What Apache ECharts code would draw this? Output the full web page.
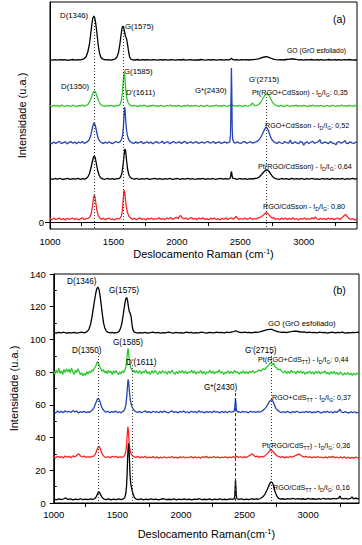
<!DOCTYPE html>
<html><head><meta charset="utf-8">
<script src="https://cdn.jsdelivr.net/npm/echarts@6/dist/echarts.min.js"></script>
<style>html,body{margin:0;padding:0;background:#fff}#c{width:362px;height:545px}</style>
</head><body><div id="c"></div>
<script>
// ---------- Panel (a) spectra (arbitrary offset units) ----------
const goA = [[1000,162.2],[1020,161.8],[1040,162.3],[1060,161.9],[1080,162.4],[1100,162.0],[1120,162.3],[1140,161.7],[1160,162.2],[1180,162.5],[1200,161.9],[1220,162.3],[1240,162.1],[1255,162.6],[1270,163.4],[1285,165.5],[1298,170],[1310,177],[1320,187],[1330,198],[1338,204],[1346,206],[1353,204],[1360,199],[1370,189],[1380,177],[1390,169],[1400,165],[1412,163.3],[1425,162.5],[1440,162.1],[1460,162.4],[1480,161.9],[1500,162.5],[1515,163.2],[1528,165],[1540,169.5],[1550,177],[1560,187],[1568,194],[1575,196],[1582,194],[1589,189],[1596,185.5],[1604,183],[1612,177],[1620,170],[1628,165],[1636,163],[1650,162.2],[1670,162.0],[1690,162.5],[1710,161.9],[1730,162.3],[1750,162.0],[1770,162.4],[1790,161.8],[1810,162.3],[1830,162.1],[1850,161.8],[1870,162.4],[1890,162.0],[1910,162.3],[1930,161.9],[1950,162.4],[1970,162.1],[1990,161.8],[2010,162.3],[2030,162.0],[2050,162.5],[2070,161.9],[2090,162.2],[2110,162.4],[2130,161.8],[2150,162.2],[2170,162.0],[2190,162.5],[2210,162.1],[2230,161.8],[2250,162.3],[2270,162.0],[2290,162.4],[2310,161.9],[2330,162.2],[2350,162.4],[2370,161.9],[2390,162.3],[2410,162.1],[2422,162.6],[2430,163.8],[2438,162.7],[2450,162.1],[2470,162.4],[2490,161.9],[2510,162.3],[2530,162.1],[2550,162.4],[2570,162.0],[2590,162.3],[2610,162.5],[2630,162.8],[2650,163.4],[2670,164.3],[2690,165.0],[2705,165.3],[2720,164.8],[2740,163.8],[2760,162.9],[2780,162.4],[2800,162.1],[2820,162.4],[2840,162.0],[2860,162.5],[2880,162.7],[2900,163.2],[2920,163.0],[2940,162.6],[2960,162.2],[2980,162.4],[3000,161.9],[3020,162.3],[3040,162.1],[3060,162.5],[3080,161.9],[3100,162.3],[3120,162.0],[3140,162.4],[3160,161.8],[3180,162.2],[3200,162.5],[3220,161.9],[3240,162.3],[3260,162.0],[3280,162.4],[3300,161.8],[3320,162.3],[3340,162.1],[3360,162.5],[3380,161.9],[3400,162.2],[3420,162.0]];

const ptRgoCdSsonMixA = [[1000,116.4],[1015,115.6],[1030,116.8],[1045,115.9],[1060,116.6],[1075,115.3],[1090,116.9],[1105,116.1],[1120,115.5],[1135,116.7],[1150,116.0],[1165,115.7],[1180,116.8],[1195,116.2],[1210,115.4],[1225,116.5],[1240,116.0],[1255,116.9],[1270,115.8],[1285,116.6],[1298,117.5],[1310,119.5],[1322,123],[1334,127.5],[1344,130.5],[1352,131],[1360,129.5],[1370,126],[1382,121.5],[1394,118.5],[1406,116.9],[1420,116.2],[1435,115.6],[1450,116.5],[1465,115.8],[1480,116.7],[1495,116.0],[1510,115.5],[1525,116.6],[1540,116.4],[1552,117.5],[1562,121],[1570,128],[1576,138],[1581,146],[1585,149],[1589,146],[1594,138],[1600,129],[1607,123],[1615,119.5],[1625,117.5],[1637,116.6],[1650,115.8],[1665,116.7],[1680,116.0],[1695,115.5],[1710,116.6],[1725,115.9],[1740,116.8],[1755,116.1],[1770,115.4],[1785,116.5],[1800,116.0],[1815,116.9],[1830,115.7],[1845,116.3],[1860,115.6],[1875,116.7],[1890,116.1],[1905,115.5],[1920,116.6],[1935,116.0],[1950,116.8],[1965,115.8],[1980,116.4],[1995,115.6],[2010,116.7],[2025,116.1],[2040,115.4],[2055,116.5],[2070,116.0],[2085,116.9],[2100,115.7],[2115,116.3],[2130,115.8],[2145,116.6],[2160,116.1],[2175,115.5],[2190,116.7],[2205,116.0],[2220,115.6],[2235,116.8],[2250,116.2],[2265,115.5],[2280,116.4],[2295,116.0],[2310,116.9],[2325,115.8],[2340,116.3],[2355,115.6],[2370,116.7],[2385,116.1],[2400,115.7],[2412,116.4],[2424,117.2],[2430,118.6],[2436,116.9],[2448,115.9],[2460,116.5],[2475,115.7],[2490,116.6],[2505,116.0],[2520,115.5],[2535,116.7],[2550,116.2],[2565,115.8],[2578,116.5],[2588,117.8],[2596,119.2],[2604,117.4],[2615,116.3],[2630,116.6],[2645,117.5],[2660,119.5],[2675,122.5],[2690,126],[2702,127.8],[2712,128.2],[2722,127.1],[2735,124.5],[2748,121],[2760,118.5],[2775,117],[2790,116.4],[2805,115.7],[2820,116.6],[2835,116.0],[2850,115.5],[2865,116.8],[2880,116.1],[2895,115.7],[2910,116.5],[2925,116.0],[2940,116.9],[2955,115.6],[2970,116.3],[2985,115.8],[3000,116.7],[3015,116.1],[3030,115.4],[3045,116.5],[3060,116.0],[3075,116.8],[3090,115.7],[3105,116.4],[3120,115.9],[3135,116.6],[3150,116.1],[3165,115.5],[3180,116.7],[3195,116.0],[3210,115.6],[3225,116.8],[3240,116.2],[3255,115.5],[3270,116.4],[3285,116.0],[3300,116.9],[3315,115.8],[3330,116.3],[3345,115.6],[3360,116.7],[3375,116.1],[3390,115.7],[3405,116.5],[3420,116.0]];

const rgoCdSsonMixA = [[1000,79.5],[1015,78.2],[1030,80.1],[1045,78.6],[1060,79.8],[1075,80.6],[1090,78.4],[1105,79.3],[1120,80.2],[1135,78.1],[1150,79.7],[1165,80.4],[1180,78.7],[1195,79.9],[1210,78.3],[1225,80.0],[1240,79.1],[1255,80.5],[1270,78.6],[1285,79.6],[1298,80.6],[1310,82.5],[1322,87],[1334,94],[1342,98],[1348,99],[1355,97.5],[1363,93],[1372,87.5],[1382,83],[1394,80.5],[1408,79.3],[1422,78.4],[1436,79.9],[1450,78.8],[1465,80.2],[1480,79.0],[1495,78.5],[1510,79.8],[1525,80.3],[1540,79.2],[1552,80.2],[1563,82.5],[1572,86],[1579,96],[1584,108],[1588,115],[1592,112],[1597,101],[1603,92],[1610,86.5],[1620,82.5],[1632,80.4],[1645,79.3],[1660,78.5],[1675,80.1],[1690,78.9],[1705,79.7],[1720,80.5],[1735,78.4],[1750,79.4],[1765,80.2],[1780,78.7],[1795,79.9],[1810,78.2],[1825,79.6],[1840,80.4],[1855,78.8],[1870,79.5],[1885,80.7],[1900,78.5],[1915,79.8],[1930,80.1],[1945,78.3],[1960,79.6],[1975,80.5],[1990,78.9],[2005,79.4],[2020,80.3],[2035,78.6],[2050,79.9],[2065,80.6],[2080,78.4],[2095,79.5],[2110,80.2],[2125,78.8],[2140,79.7],[2155,80.4],[2170,78.5],[2185,79.3],[2200,80.1],[2215,78.7],[2230,79.8],[2245,80.5],[2260,78.9],[2275,79.4],[2290,80.3],[2305,78.6],[2320,79.7],[2335,80.2],[2350,78.4],[2365,79.5],[2380,80.0],[2395,78.9],[2410,79.6],[2418,80.5],[2423,88],[2427,125],[2430,154],[2433,132],[2436,95],[2440,83],[2448,79.8],[2460,78.8],[2475,80.2],[2490,79.1],[2505,78.5],[2520,79.9],[2535,80.4],[2550,78.7],[2565,79.5],[2580,80.3],[2595,78.9],[2608,79.4],[2620,79.8],[2635,80.8],[2650,82.5],[2665,85.5],[2680,89.5],[2693,93],[2703,94.5],[2713,93.8],[2724,90.5],[2736,86],[2748,82.5],[2762,80.5],[2776,79.4],[2790,78.6],[2805,80.2],[2820,79.0],[2835,78.4],[2850,80.5],[2865,79.3],[2880,78.8],[2895,81.8],[2903,79.0],[2915,78.6],[2930,80.3],[2945,79.1],[2960,78.3],[2975,80.6],[2990,79.4],[3000,76.8],[3010,78.9],[3025,80.2],[3040,78.5],[3055,79.7],[3070,80.8],[3085,78.6],[3100,79.5],[3115,80.4],[3128,82.3],[3136,79.2],[3150,78.7],[3165,80.1],[3180,79.3],[3195,78.4],[3210,80.5],[3225,79.0],[3240,78.6],[3255,77.2],[3265,79.6],[3280,80.3],[3295,78.8],[3310,79.6],[3325,81.5],[3335,79.0],[3350,78.5],[3365,80.2],[3380,79.2],[3395,78.6],[3410,80.0],[3420,79.3]];

const ptRgoCdSsonA = [[1000,43.3],[1020,42.6],[1040,43.5],[1060,42.8],[1080,43.6],[1100,42.5],[1120,43.2],[1140,43.7],[1160,42.7],[1180,43.4],[1200,42.9],[1220,43.6],[1240,42.6],[1260,43.3],[1275,42.9],[1285,43.6],[1298,45],[1310,48],[1322,53.5],[1334,60.5],[1343,65],[1350,66],[1357,64],[1366,58],[1376,51.5],[1388,46.5],[1400,44.2],[1415,43.2],[1430,42.7],[1450,43.5],[1470,42.8],[1490,43.4],[1510,42.6],[1528,43.3],[1545,43.4],[1557,45],[1567,49],[1576,57],[1583,66],[1589,72],[1593,73],[1598,69],[1604,61],[1612,52.5],[1622,47],[1634,44.5],[1648,43.4],[1665,42.8],[1685,43.5],[1705,42.7],[1725,43.3],[1745,42.9],[1765,43.6],[1785,42.6],[1805,43.2],[1825,43.7],[1845,42.8],[1865,43.4],[1885,42.6],[1905,43.3],[1925,42.9],[1945,43.6],[1965,42.7],[1985,43.2],[2005,43.5],[2025,42.6],[2045,43.4],[2065,42.9],[2085,43.6],[2105,42.8],[2125,43.3],[2145,42.5],[2165,43.4],[2185,43.0],[2205,43.6],[2225,42.7],[2245,43.3],[2265,42.9],[2285,43.5],[2305,42.6],[2325,43.2],[2345,43.7],[2365,42.8],[2385,43.4],[2403,42.8],[2418,43.5],[2424,45.5],[2428,49.5],[2431,50.5],[2434,47],[2440,43.8],[2455,43.4],[2475,42.7],[2495,43.5],[2515,42.9],[2535,43.3],[2555,42.6],[2575,43.4],[2595,43.0],[2612,43.5],[2630,43.6],[2650,45],[2668,47.5],[2685,50],[2700,51.8],[2712,52.2],[2724,51],[2738,48.5],[2752,45.8],[2768,44],[2785,43.2],[2805,42.7],[2825,43.5],[2845,42.9],[2865,43.3],[2885,42.6],[2905,43.6],[2925,42.8],[2945,43.4],[2965,42.9],[2985,43.5],[3005,42.6],[3025,43.3],[3045,42.8],[3065,43.6],[3085,42.9],[3105,43.2],[3125,42.6],[3145,43.5],[3165,42.9],[3185,43.3],[3205,42.7],[3225,43.6],[3245,42.8],[3265,43.4],[3285,42.9],[3305,43.5],[3325,42.7],[3345,43.3],[3365,42.8],[3385,43.6],[3405,42.9],[3420,43.3]];

const rgoCdSsonA = [[1000,3.4],[1015,2.1],[1030,3.9],[1045,2.6],[1060,3.2],[1075,4.1],[1090,2.3],[1105,3.5],[1120,2.0],[1135,3.8],[1150,2.7],[1165,3.3],[1180,4.0],[1195,2.4],[1210,3.6],[1225,2.2],[1240,3.1],[1255,4.2],[1270,2.5],[1285,3.4],[1300,3.6],[1315,5],[1326,9],[1335,16],[1342,23],[1348,27],[1354,25.5],[1361,19],[1370,11.5],[1380,6.5],[1392,4.2],[1405,2.6],[1420,3.7],[1435,2.2],[1450,3.4],[1465,4.0],[1480,2.5],[1495,3.2],[1510,2.0],[1525,3.6],[1540,2.8],[1552,3.8],[1563,6],[1571,12],[1577,22],[1582,30],[1586,32],[1590,29],[1596,21],[1603,14],[1612,9],[1623,5.5],[1637,4],[1650,2.6],[1665,3.8],[1680,2.3],[1695,3.4],[1710,4.1],[1725,2.6],[1740,3.3],[1755,2.1],[1770,3.7],[1785,2.8],[1800,4.0],[1815,2.4],[1830,3.5],[1845,2.9],[1860,4.3],[1875,2.6],[1890,3.4],[1905,2.2],[1920,3.9],[1935,3.0],[1950,4.4],[1965,2.7],[1980,3.6],[1995,4.6],[2010,3.4],[2022,5.8],[2032,6.3],[2042,4.2],[2055,3.0],[2070,4.1],[2085,2.6],[2100,3.5],[2115,4.4],[2130,2.8],[2145,3.6],[2160,2.4],[2175,3.9],[2190,3.0],[2205,4.2],[2220,2.5],[2235,3.4],[2250,2.2],[2265,3.8],[2280,2.9],[2295,4.0],[2310,2.6],[2325,3.3],[2340,2.1],[2355,3.7],[2370,2.8],[2385,3.9],[2400,2.4],[2415,3.5],[2430,4.2],[2445,2.7],[2458,4.5],[2468,5.8],[2478,3.6],[2490,2.4],[2505,3.5],[2520,2.8],[2535,4.0],[2550,2.5],[2565,3.4],[2580,4.1],[2595,2.6],[2610,3.5],[2625,2.9],[2640,4.2],[2655,4.5],[2670,5.8],[2685,7.2],[2697,8.8],[2706,9.6],[2716,8.6],[2728,6.8],[2740,5.2],[2752,3.8],[2765,4.3],[2780,2.6],[2795,3.5],[2810,2.2],[2825,3.8],[2840,2.9],[2855,4.0],[2870,2.4],[2885,3.6],[2900,2.8],[2915,4.1],[2930,2.5],[2945,3.3],[2960,2.1],[2975,3.7],[2990,2.7],[3005,3.9],[3020,2.4],[3035,3.5],[3050,2.9],[3065,4.2],[3080,3.2],[3092,5.2],[3104,3.0],[3118,2.4],[3133,3.7],[3148,2.6],[3163,3.4],[3178,2.2],[3193,3.9],[3208,2.8],[3223,3.6],[3238,2.4],[3253,3.3],[3268,4.0],[3283,2.6],[3298,3.9],[3310,5.2],[3322,6.8],[3332,7.4],[3342,5.5],[3355,3.6],[3370,2.5],[3385,3.4],[3400,1.9],[3412,2.8],[3420,1.6]];

// ---------- Panel (b) spectra ----------
const goB = [[1000,104.2],[1020,103.9],[1040,104.3],[1060,104.0],[1080,104.4],[1100,103.8],[1120,104.2],[1140,104.0],[1160,104.3],[1180,103.9],[1200,104.1],[1220,104.4],[1238,104.0],[1250,104.3],[1265,105],[1278,106.5],[1290,109.5],[1300,113.5],[1310,118.5],[1320,123.5],[1330,128],[1338,131],[1346,132],[1354,131],[1362,128],[1372,122],[1382,115.5],[1392,110],[1402,106.8],[1414,105],[1428,104.3],[1445,104.0],[1460,104.3],[1475,103.9],[1490,104.2],[1500,104.2],[1512,104.8],[1524,106.5],[1536,110],[1548,116],[1558,121.5],[1566,124.8],[1573,125.6],[1580,124],[1587,120],[1594,117],[1601,116],[1608,114],[1615,109.5],[1622,106],[1632,104.6],[1645,104.1],[1660,103.9],[1680,104.2],[1700,104.0],[1720,104.3],[1740,103.8],[1760,104.1],[1780,104.4],[1800,104.0],[1820,104.3],[1840,103.9],[1860,104.2],[1880,104.0],[1900,104.4],[1920,104.1],[1940,103.9],[1960,104.3],[1980,104.0],[2000,104.2],[2020,103.9],[2040,104.4],[2060,104.1],[2080,104.3],[2100,103.9],[2120,104.2],[2140,104.0],[2160,104.4],[2180,104.1],[2200,103.9],[2220,104.3],[2240,104.2],[2260,104.0],[2280,104.4],[2300,104.1],[2320,104.3],[2340,104.0],[2360,104.5],[2380,104.2],[2400,104.6],[2415,104.8],[2430,105.3],[2445,104.8],[2460,104.4],[2480,104.2],[2500,104.5],[2520,104.1],[2540,104.3],[2560,104.0],[2580,104.4],[2600,104.3],[2620,104.6],[2640,105.1],[2660,105.6],[2680,106.0],[2700,106.2],[2715,106.1],[2730,105.6],[2750,105.0],[2770,104.6],[2790,104.3],[2810,104.5],[2830,104.2],[2850,104.6],[2870,104.8],[2890,105.1],[2910,105.0],[2930,104.7],[2950,104.4],[2970,104.6],[2990,104.2],[3010,104.4],[3030,104.1],[3050,104.3],[3070,104.0],[3090,104.4],[3110,104.1],[3130,104.3],[3150,103.9],[3170,104.2],[3190,104.4],[3210,104.0],[3230,104.3],[3250,104.1],[3270,104.4],[3290,103.9],[3310,104.2],[3330,104.0],[3350,104.3],[3370,104.1],[3390,104.4],[3400,104.2]];

const ptRgoCdSttMixB = [[1000,80.5],[1010,78.8],[1020,81.2],[1030,79.5],[1040,82.4],[1050,79.1],[1060,80.9],[1070,78.5],[1080,81.6],[1090,79.8],[1100,82.0],[1110,80.2],[1120,81.8],[1130,79.4],[1140,82.6],[1150,80.0],[1160,78.6],[1170,81.3],[1180,79.7],[1190,82.1],[1200,80.4],[1210,78.4],[1220,79.6],[1230,77.6],[1240,79.2],[1250,78.0],[1260,80.3],[1270,78.8],[1280,80.6],[1290,79.5],[1300,81.4],[1310,80.5],[1320,82.6],[1330,83.5],[1338,85.6],[1345,86.4],[1352,85.2],[1360,83.8],[1370,82.0],[1380,80.4],[1390,81.6],[1400,79.5],[1410,80.8],[1420,79.0],[1430,81.2],[1440,79.7],[1450,80.5],[1460,78.6],[1470,80.9],[1480,79.3],[1490,81.0],[1500,79.6],[1510,78.4],[1520,80.2],[1530,79.0],[1540,80.8],[1550,79.7],[1560,81.2],[1568,83.5],[1574,87.5],[1579,92],[1584,94.5],[1588,92.5],[1593,88],[1599,84.5],[1606,82.6],[1614,81.4],[1622,80.0],[1632,81.2],[1642,79.5],[1652,81.0],[1664,79.2],[1676,80.8],[1688,78.9],[1700,80.5],[1712,79.7],[1724,81.3],[1736,79.0],[1748,80.4],[1760,78.6],[1772,80.9],[1784,79.4],[1796,81.1],[1808,79.8],[1820,78.7],[1832,80.6],[1844,79.2],[1856,81.0],[1868,79.6],[1880,80.3],[1892,78.8],[1904,80.7],[1916,79.3],[1928,81.2],[1940,79.9],[1952,78.6],[1964,80.4],[1976,79.0],[1988,80.8],[2000,79.5],[2012,81.0],[2024,79.2],[2036,80.6],[2048,78.9],[2060,80.3],[2072,79.6],[2084,81.2],[2096,79.4],[2108,80.7],[2120,78.8],[2132,80.2],[2144,79.5],[2156,81.0],[2168,79.1],[2180,80.5],[2192,78.7],[2204,80.1],[2216,79.6],[2228,81.1],[2240,79.3],[2252,80.6],[2264,78.9],[2276,80.4],[2288,79.7],[2300,81.3],[2312,79.5],[2324,80.2],[2336,78.6],[2348,80.0],[2360,79.4],[2372,80.8],[2384,79.0],[2396,80.5],[2408,79.2],[2420,80.9],[2432,79.8],[2444,80.3],[2456,78.7],[2468,80.1],[2480,79.4],[2492,80.8],[2504,79.1],[2516,80.4],[2528,78.9],[2540,80.6],[2552,79.7],[2564,81.0],[2576,79.5],[2588,80.2],[2600,80.4],[2615,81.5],[2630,80.6],[2645,82.2],[2660,81.6],[2675,83.2],[2690,84.2],[2700,85.3],[2710,85.8],[2720,84.6],[2730,85.2],[2740,83.5],[2752,82.6],[2765,81.3],[2780,81.8],[2795,80.2],[2808,79.6],[2820,80.9],[2832,79.0],[2844,80.5],[2856,79.3],[2868,81.1],[2880,79.8],[2892,80.4],[2904,78.9],[2916,80.7],[2928,79.5],[2940,80.8],[2952,79.2],[2964,80.3],[2976,78.7],[2988,80.0],[3000,79.4],[3012,80.6],[3024,79.0],[3036,80.2],[3048,78.8],[3060,80.4],[3072,79.3],[3084,80.7],[3096,78.9],[3108,80.1],[3120,79.5],[3132,80.8],[3144,79.0],[3156,79.9],[3168,78.6],[3180,80.3],[3192,79.1],[3204,80.5],[3216,78.8],[3228,79.9],[3240,78.4],[3252,80.1],[3264,79.0],[3276,78.2],[3288,79.6],[3300,78.5],[3312,79.8],[3324,78.3],[3336,79.4],[3348,78.0],[3360,79.2],[3372,78.4],[3384,79.5],[3400,78.6]];

const rgoCdSttMixB = [[1000,55.8],[1015,55.1],[1030,56.2],[1045,55.4],[1060,56.0],[1075,55.2],[1090,56.4],[1105,55.6],[1120,56.1],[1135,55.3],[1150,56.5],[1165,55.7],[1180,56.2],[1195,55.0],[1210,55.9],[1225,55.4],[1240,56.1],[1255,55.2],[1270,55.7],[1280,55.4],[1290,56],[1305,57],[1318,58.5],[1330,61],[1340,63],[1348,64],[1356,63.5],[1365,61.5],[1375,59],[1386,57.3],[1398,56.2],[1410,55.5],[1425,56.1],[1440,55.2],[1455,55.9],[1470,55.4],[1485,56.2],[1500,55.3],[1515,55.8],[1530,55.1],[1540,55.9],[1548,56.2],[1558,57.3],[1567,60],[1574,65],[1580,71.5],[1584,75.5],[1589,74],[1595,68],[1602,63],[1610,60],[1620,58],[1632,56.6],[1645,55.9],[1660,55.3],[1675,56.0],[1690,55.2],[1705,55.8],[1720,56.3],[1735,55.4],[1750,55.9],[1765,55.1],[1780,56.1],[1795,55.5],[1810,55.9],[1825,55.2],[1840,56.0],[1855,55.4],[1870,56.2],[1885,55.6],[1900,55.0],[1915,55.8],[1930,56.3],[1945,55.3],[1960,55.9],[1975,55.1],[1990,56.0],[2005,55.5],[2020,56.2],[2035,55.3],[2050,55.8],[2065,55.0],[2080,56.1],[2095,55.6],[2110,55.9],[2125,55.2],[2140,56.3],[2155,55.5],[2170,55.8],[2185,55.1],[2200,56.0],[2215,55.4],[2230,55.9],[2245,55.2],[2260,56.2],[2275,55.5],[2290,55.8],[2305,55.1],[2320,56.0],[2335,55.4],[2350,55.9],[2365,55.2],[2380,56.1],[2395,55.5],[2405,55.9],[2416,55.8],[2422,57.5],[2426,61],[2429,64],[2432,61.5],[2436,57],[2443,55.6],[2455,55.9],[2470,55.2],[2485,56.0],[2500,55.5],[2515,55.8],[2530,55.1],[2545,56.1],[2560,55.6],[2575,55.9],[2590,55.3],[2605,56.0],[2618,55.5],[2630,55.9],[2648,56.8],[2664,58],[2680,59.8],[2694,61.8],[2704,62.8],[2714,63.2],[2724,62],[2734,60.2],[2746,58],[2760,56.6],[2776,55.8],[2790,55.3],[2805,55.9],[2820,55.2],[2835,56.0],[2850,55.6],[2865,55.1],[2880,55.9],[2895,55.4],[2910,56.1],[2925,55.5],[2940,55.2],[2955,55.8],[2970,55.3],[2985,56.0],[3000,55.4],[3015,55.9],[3030,55.1],[3045,55.7],[3060,55.3],[3075,56.0],[3090,55.5],[3105,55.0],[3120,55.8],[3135,55.4],[3150,56.1],[3165,55.3],[3180,55.8],[3195,55.1],[3210,55.9],[3225,55.4],[3240,56.2],[3250,57.4],[3260,55.8],[3275,55.2],[3290,55.9],[3305,55.4],[3320,55.0],[3335,55.7],[3350,55.2],[3365,55.8],[3380,55.1],[3400,55.5]];

const ptRgoCdSttB = [[1000,28.2],[1015,27.6],[1030,28.6],[1045,27.9],[1060,28.4],[1075,27.5],[1090,28.7],[1105,28.0],[1120,28.5],[1135,27.7],[1150,28.8],[1165,28.2],[1180,29.0],[1192,30.1],[1202,29.6],[1212,28.6],[1225,28.1],[1240,28.7],[1255,27.8],[1270,28.4],[1285,27.9],[1300,28.5],[1315,28.6],[1328,30],[1340,32.5],[1350,34.3],[1358,34.6],[1366,33],[1376,30.8],[1388,29],[1400,28.2],[1415,27.8],[1430,28.4],[1445,27.6],[1460,28.6],[1475,28.0],[1490,28.5],[1505,27.7],[1520,28.3],[1535,27.9],[1550,28.4],[1560,29.5],[1568,32],[1574,37],[1579,43.5],[1583,46.5],[1587,44],[1592,38],[1598,33],[1606,30.5],[1616,29.2],[1630,28.3],[1645,27.8],[1660,28.5],[1675,27.6],[1690,28.2],[1705,27.8],[1720,28.6],[1735,27.5],[1750,28.1],[1765,27.7],[1780,28.4],[1795,27.6],[1810,28.2],[1825,27.4],[1840,28.0],[1855,27.6],[1870,28.3],[1885,27.5],[1900,28.1],[1915,27.8],[1930,28.4],[1945,27.6],[1960,28.0],[1975,27.4],[1990,28.2],[2005,27.7],[2020,28.3],[2035,27.5],[2050,28.1],[2065,27.8],[2080,28.4],[2095,27.6],[2110,28.2],[2125,27.7],[2140,28.0],[2155,27.4],[2170,28.3],[2185,27.9],[2200,28.5],[2215,27.6],[2230,28.1],[2245,27.8],[2260,28.4],[2275,27.7],[2290,28.2],[2305,27.5],[2320,28.0],[2335,27.8],[2350,28.3],[2365,27.6],[2380,28.1],[2395,27.7],[2410,28.4],[2425,27.9],[2440,28.5],[2455,27.8],[2470,28.3],[2485,27.7],[2500,28.2],[2515,27.9],[2530,28.6],[2545,29.1],[2558,30.2],[2570,29.3],[2585,28.2],[2600,28.7],[2615,27.9],[2630,28.5],[2645,28.1],[2660,28.8],[2680,30.2],[2695,31.6],[2707,32.6],[2720,31.8],[2735,30.4],[2752,29],[2770,28.3],[2785,27.9],[2800,28.4],[2815,27.6],[2830,28.2],[2845,27.8],[2860,28.5],[2875,28.1],[2890,28.7],[2905,29.1],[2918,29.7],[2930,29.9],[2942,29.2],[2955,28.5],[2970,28.0],[2985,28.6],[3000,27.8],[3015,28.3],[3030,27.6],[3045,28.2],[3060,27.7],[3075,28.4],[3090,27.8],[3105,28.1],[3120,27.5],[3135,28.2],[3150,27.6],[3165,28.3],[3180,27.9],[3195,28.5],[3210,27.7],[3225,28.1],[3240,27.5],[3255,28.2],[3270,27.6],[3285,28.3],[3300,27.4],[3315,28.0],[3330,27.3],[3345,27.9],[3360,27.4],[3375,28.1],[3390,27.5],[3400,27.9]];

const rgoCdSttB = [[1000,2.3],[1020,1.9],[1040,2.5],[1060,2.0],[1080,2.6],[1095,3.1],[1110,2.2],[1130,2.5],[1150,1.9],[1170,2.4],[1190,2.1],[1210,2.6],[1230,2.0],[1250,2.4],[1270,2.1],[1290,2.5],[1305,2.2],[1320,2.6],[1332,3.5],[1342,5.2],[1352,6.8],[1360,6.5],[1370,4.8],[1382,3.2],[1395,2.4],[1410,2.1],[1430,2.5],[1450,1.9],[1470,2.4],[1490,2.1],[1510,2.5],[1530,2.0],[1548,2.5],[1558,3.3],[1566,5.5],[1572,10],[1577,18],[1581,28],[1585,34],[1588,36.5],[1592,33],[1596,25],[1600,17],[1605,12],[1611,9.5],[1617,7.5],[1625,5],[1635,3.2],[1648,2.4],[1665,2.1],[1685,2.5],[1705,1.9],[1725,2.3],[1745,2.0],[1765,2.5],[1785,2.1],[1805,2.4],[1825,1.9],[1845,2.3],[1865,2.6],[1885,2.0],[1905,2.3],[1925,2.1],[1945,2.5],[1965,1.9],[1985,2.4],[2005,2.1],[2025,2.5],[2045,2.0],[2065,2.3],[2085,1.9],[2105,2.4],[2125,2.2],[2145,2.6],[2165,2.0],[2185,2.3],[2205,2.1],[2225,2.5],[2245,1.9],[2265,2.4],[2285,2.1],[2305,2.5],[2325,2.0],[2345,2.3],[2365,2.1],[2385,2.5],[2405,2.2],[2418,2.5],[2423,4],[2426,9],[2429,14],[2432,10],[2435,5],[2440,2.6],[2455,2.2],[2475,2.5],[2495,2.0],[2515,2.4],[2535,2.1],[2555,2.6],[2575,2.2],[2595,2.5],[2608,2.3],[2620,2.6],[2640,3.5],[2658,5],[2674,7.5],[2688,10],[2700,12],[2710,13],[2720,12.3],[2730,10],[2740,7],[2752,4.5],[2766,3],[2785,2.4],[2800,2.6],[2820,2.2],[2840,2.7],[2860,2.3],[2880,2.8],[2900,2.4],[2920,2.7],[2940,2.3],[2960,2.6],[2980,2.2],[3000,2.8],[3020,2.4],[3040,2.6],[3060,2.2],[3080,2.7],[3100,2.3],[3120,2.9],[3140,2.4],[3160,2.7],[3180,2.3],[3200,2.8],[3220,2.5],[3240,3.0],[3250,4.3],[3258,2.9],[3275,2.5],[3295,2.9],[3315,2.4],[3335,2.8],[3345,3.8],[3355,2.6],[3375,2.9],[3400,2.5]];

// x-axis tick labels and reference lines [x, yTop, yBottom]
const xTickLabels = [1000, 1500, 2000, 2500, 3000];
const xMinorTicks = [1250, 1750, 2250, 2750, 3250];
const refLinesA = [[1346, 202, -7], [1575, 192, -7], [2708, 125, -7]];
const refLinesB = [[1351, 91.7, 0], [1616, 84.4, 0], [2712, 91.7, 0]];
const refDashedB = [[2425, 67.2, 0]];

const FONT = "'Liberation Sans', Arial, Helvetica, sans-serif";
const chart = echarts.init(document.getElementById('c'), null, {renderer: 'svg'});
const plain = v => String(v);

function mkLines(list) {
  return list.map(r => [{coord: [r[0], r[1]]}, {coord: [r[0], r[2]]}]);
}
function trace(data, color, xi, yi, extra) {
  return Object.assign({
    type: 'line', data, xAxisIndex: xi, yAxisIndex: yi, showSymbol: false, symbol: 'none',
    lineStyle: {color, width: 1.3}, itemStyle: {color}, animation: false, silent: true, z: 3
  }, extra || {});
}
function markL(list, dash) {
  return {silent: true, symbol: ['none', 'none'], label: {show: false}, animation: false,
    lineStyle: {color: '#333', width: 1, type: dash}, data: mkLines(list)};
}

const nameRich = {
  n: {fontSize: 11, fontFamily: FONT, color: '#000', lineHeight: 14},
  s: {fontSize: 7.5, fontFamily: FONT, color: '#000', lineHeight: 7, verticalAlign: 'top'}
};

function xAxisDef(grid, max, nameText, gap, margin) {
  return {
    type: 'value', gridIndex: grid, min: 1000, max: max,
    axisLine: {show: true, lineStyle: {color: '#000', width: 1}},
    axisTick: {show: true, customValues: xMinorTicks, length: 4, lineStyle: {color: '#000'}},
    axisLabel: {customValues: xTickLabels, formatter: plain, fontSize: 9.5, fontFamily: FONT, color: '#000', margin: margin},
    splitLine: {show: false},
    name: nameText, nameLocation: 'middle', nameGap: gap,
    nameTextStyle: {fontSize: 11, fontFamily: FONT, color: '#000', rich: nameRich}
  };
}

// text annotations
function subRich(fs) {
  return {
    n: {fontSize: fs, fontFamily: FONT, fill: '#000', lineHeight: fs + 4},
    s: {fontSize: fs * 0.72, fontFamily: FONT, fill: '#000', lineHeight: fs * 0.72, verticalAlign: 'bottom'}
  };
}
function txt(x, y, text, fs, rich) {
  const st = {text, fill: '#000', fontSize: fs, fontFamily: FONT, verticalAlign: 'middle', align: 'left'};
  if (rich) st.rich = rich;
  return {type: 'text', x, y, silent: true, z: 10, style: st};
}
const ratio = (pre, val) => '{n|' + pre + ' - I}{s|D}{n|/I}{s|G}{n|: ' + val + '}';
const ratioTT = (pre, post, val) => '{n|' + pre + '}{s|TT}{n|' + post + ' - I}{s|D}{n|/I}{s|G}{n|: ' + val + '}';

const r7 = subRich(7.2);
const graphics = [
  // panel a
  txt(60, 15, 'D(1346)', 7.8),
  txt(125, 26, 'G(1575)', 7.8),
  txt(333, 19, '(a)', 10.5),
  txt(287, 50, 'GO (GrO esfoliado)', 6.8),
  txt(124, 71, 'G(1585)', 7.8),
  txt(61, 86, 'D(1350)', 7.8),
  txt(126, 92, "D'(1611)", 7.8),
  txt(195, 90, 'G*(2430)', 7.8),
  txt(249, 79, "G'(2715)", 7.8),
  txt(252, 92, ratio('Pt(RGO+CdSson)', '0,35'), 7.2, r7),
  txt(265, 125, ratio('RGO+CdSson', '0,52'), 7.2, r7),
  txt(258, 166, ratio('Pt(RGO/CdSson)', '0,64'), 7.2, r7),
  txt(263, 206, ratio('RGO/CdSson', '0,80'), 7.2, r7),
  // panel b
  txt(67, 281, 'D(1346)', 8.2),
  txt(109, 290, 'G(1575)', 8.2),
  txt(333, 290, '(b)', 10.5),
  txt(268, 323, 'GO (GrO esfoliado)', 7.8),
  txt(72, 350, 'D(1350)', 8.2),
  txt(113, 342, 'G(1585)', 8.2),
  txt(126, 362, "D'(1611)", 8.2),
  txt(245, 350, "G'(2715)", 8.2),
  txt(258, 359, ratioTT('Pt(RGO+CdS', ')', '0,44'), 7.2, r7),
  txt(204, 387, 'G*(2430)', 8.2),
  txt(272, 397, ratioTT('RGO+CdS', '', '0,37'), 7.2, r7),
  txt(262, 445, ratioTT('Pt(RGO/CdS', ')', '0,36'), 7.2, r7),
  txt(273, 487, ratioTT('RGO/CdS', '', '0,16'), 7.2, r7)
];

const option = {
  backgroundColor: '#fff',
  animation: false,
  grid: [
    {left: 50, right: 5, top: 2, height: 227, show: true, borderColor: '#000', borderWidth: 1, containLabel: false},
    {left: 47, right: 3, top: 274, height: 229, show: true, borderColor: '#000', borderWidth: 1, containLabel: false}
  ],
  xAxis: [
    xAxisDef(0, 3420, '{n|Deslocamento Raman (cm}{s|-1}{n|)}', 18, 7),
    xAxisDef(1, 3400, '{n|Deslocamento Raman(cm}{s|-1}{n|)}', 24, 6)
  ],
  yAxis: [
    {type: 'value', gridIndex: 0, min: -7, max: 220,
      axisLine: {show: true, lineStyle: {color: '#000'}},
      axisTick: {show: true, customValues: [0], length: 5, lineStyle: {color: '#000'}},
      axisLabel: {customValues: [0], formatter: plain, fontSize: 9.5, fontFamily: FONT, color: '#000', margin: 6},
      splitLine: {show: false},
      name: 'Intensidade (u.a.)', nameLocation: 'middle', nameGap: 16,
      nameTextStyle: {fontSize: 11, fontFamily: FONT, color: '#000'}},
    {type: 'value', gridIndex: 1, min: 0, max: 140, interval: 20,
      axisLine: {show: true, lineStyle: {color: '#000'}},
      axisTick: {show: true, length: 4, lineStyle: {color: '#000'}},
      minorTick: {show: true, splitNumber: 2, length: -3, lineStyle: {color: '#000'}},
      axisLabel: {formatter: plain, fontSize: 9.5, fontFamily: FONT, color: '#000', margin: 8},
      splitLine: {show: false},
      name: 'Intensidade (u.a.)', nameLocation: 'middle', nameGap: 33,
      nameTextStyle: {fontSize: 11, fontFamily: FONT, color: '#000'}}
  ],
  series: [
    trace(goA, '#000000', 0, 0, {markLine: markL(refLinesA, [1, 2])}),
    trace(ptRgoCdSsonMixA, '#2ec72e', 0, 0),
    trace(rgoCdSsonMixA, '#2444b8', 0, 0),
    trace(ptRgoCdSsonA, '#000000', 0, 0),
    trace(rgoCdSsonA, '#ff2424', 0, 0),
    trace(goB, '#000000', 1, 1, {markLine: markL(refLinesB, [1, 2])}),
    trace(ptRgoCdSttMixB, '#2ec72e', 1, 1),
    trace(rgoCdSttMixB, '#2444b8', 1, 1, {markLine: markL(refDashedB, [3, 2])}),
    trace(ptRgoCdSttB, '#ff2424', 1, 1),
    trace(rgoCdSttB, '#000000', 1, 1)
  ],
  graphic: graphics
};
chart.setOption(option);
</script></body></html>
